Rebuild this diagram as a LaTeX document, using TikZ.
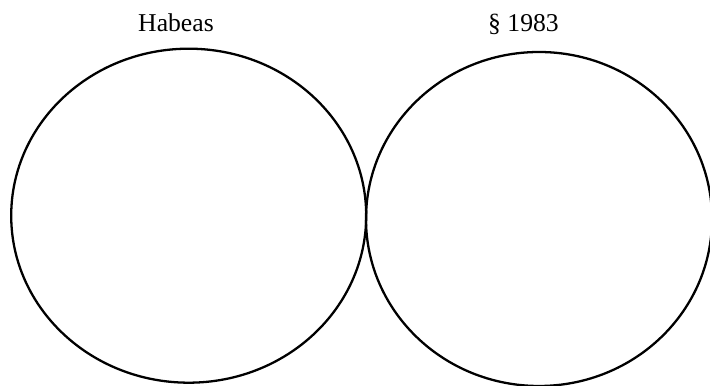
\documentclass[tikz,border=0pt]{standalone}
\usepackage{fontspec}
\setmainfont{Liberation Serif}
\usepackage{tikz}
\usetikzlibrary{shapes.geometric}

\begin{document}
\begin{tikzpicture}[
  set/.style={draw,ellipse,line width=1.3pt,inner sep=0pt},
  title/.style={anchor=base,font=\fontsize{14.6pt}{17pt}\selectfont}]
  \useasboundingbox (0,0) rectangle (14.2,7.72);
  \node[set,minimum width=7.10cm,minimum height=6.68cm] (habeas) at (3.774,3.406) {};
  \node[set,minimum width=6.92cm,minimum height=6.68cm] (sec) at (10.78,3.34) {};
  \node[title] (habeasT) at (3.52,7.086) {Habeas};
  \node[title] (secT) at (10.47,7.086) {\S\ 1983};
\end{tikzpicture}
\end{document}
